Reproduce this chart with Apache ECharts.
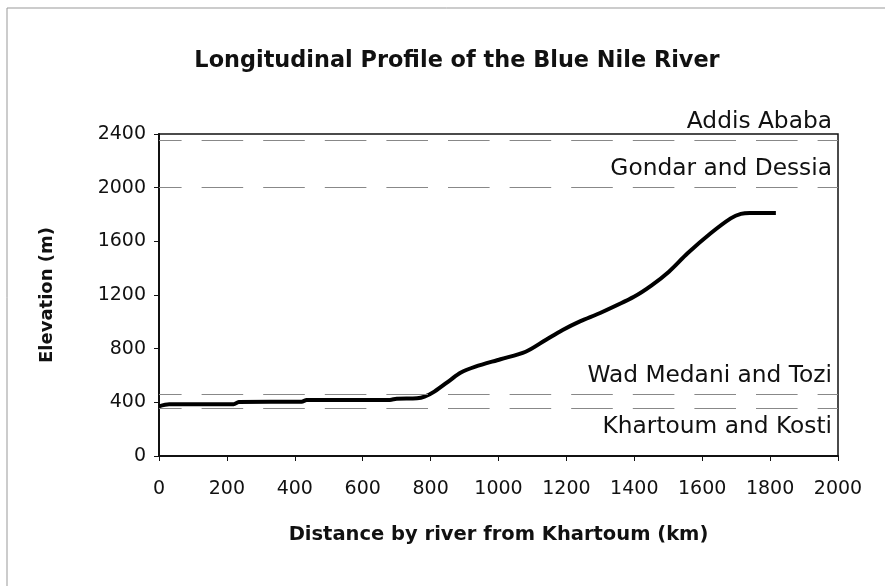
<!DOCTYPE html>
<html>
<head>
<meta charset="utf-8">
<script src="https://cdn.jsdelivr.net/npm/echarts@6/dist/echarts.min.js"></script>
<style>
  html, body { margin: 0; padding: 0; background: #fff; }
  #chart { width: 885px; height: 586px; }
</style>
</head>
<body>
<div id="chart"></div>
<script>
// distance from Khartoum (km) and elevation (m)
var distance = [0, 30, 220, 235, 420, 435, 680, 700, 760, 782, 811, 858, 888, 932, 1006, 1080, 1139, 1189, 1240, 1301, 1399, 1450, 1502, 1557, 1625, 1684, 1714, 1740, 1817];
var elevation = [370, 385, 385, 402, 405, 417, 418, 427, 430, 442, 480, 566, 621, 666, 721, 777, 865, 939, 1003, 1068, 1187, 1270, 1374, 1511, 1660, 1771, 1805, 1812, 1812];

// reference levels (dashed)
var levelNames = ["Addis Ababa", "Gondar and Dessia", "Wad Medani and Tozi", "Khartoum and Kosti"];
var levelValues = [2350, 2000, 460, 355];
var levelLabelPos = ["insideEndTop", "insideEndTop", "insideEndTop", "insideEndBottom"];

var xTicks = [0, 200, 400, 600, 800, 1000, 1200, 1400, 1600, 1800, 2000];
var yTicks = [0, 400, 800, 1200, 1600, 2000, 2400];

var font = "DejaVu Sans, Liberation Sans, Arial, sans-serif";
var chart = echarts.init(document.getElementById("chart"));

var lineData = distance.map(function (d, i) { return [d, elevation[i]]; });

var marks = levelValues.map(function (v, i) {
  return {
    yAxis: v,
    label: {
      show: true,
      formatter: levelNames[i],
      position: levelLabelPos[i],
      distance: [6, 7],
      fontSize: 23.3,
      color: "#111",
      fontFamily: font
    }
  };
});

var option = {
  animation: false,
  backgroundColor: "#fff",
  title: {
    text: "Longitudinal Profile of the Blue Nile River",
    left: 452,
    top: 45,
    textAlign: "center",
    textStyle: { fontSize: 22.4, fontWeight: "bold", color: "#111", fontFamily: font }
  },
  graphic: [{
    type: "rect",
    shape: { x: 7, y: 8, width: 900, height: 600 },
    style: { fill: "none", stroke: "#999", lineWidth: 1 },
    silent: true
  }],
  grid: {
    left: 159, right: 47, top: 134, bottom: 130,
    show: true, borderColor: "#111", borderWidth: 1.5, backgroundColor: "transparent"
  },
  xAxis: {
    type: "value",
    min: xTicks[0], max: xTicks[xTicks.length - 1], interval: 200,
    name: "Distance by river from Khartoum (km)",
    nameLocation: "middle", nameGap: 69,
    nameTextStyle: { fontSize: 19.5, fontWeight: "bold", color: "#111", fontFamily: font },
    axisLine: { lineStyle: { color: "#111", width: 2 } },
    axisTick: { show: true, length: 5, lineStyle: { color: "#111" } },
    axisLabel: { fontSize: 19, color: "#111", fontFamily: font, margin: 24, formatter: function (v) { return String(v); } },
    splitLine: { show: false }
  },
  yAxis: {
    type: "value",
    min: yTicks[0], max: yTicks[yTicks.length - 1], interval: 400,
    name: "Elevation (m)",
    nameLocation: "middle", nameGap: 103, nameRotate: 90,
    nameTextStyle: { fontSize: 18, fontWeight: "bold", color: "#111", fontFamily: font },
    axisLine: { show: true, lineStyle: { color: "#111", width: 2 } },
    axisTick: { show: true, length: 5, lineStyle: { color: "#111" } },
    axisLabel: { fontSize: 19, color: "#111", fontFamily: font, margin: 13, formatter: function (v) { return String(v); } },
    splitLine: { show: false }
  },
  series: [{
    type: "line",
    data: lineData,
    smooth: 0.3,
    showSymbol: false,
    lineStyle: { color: "#000", width: 4 },
    markLine: {
      silent: true,
      symbol: "none",
      lineStyle: { color: "#888", width: 1, type: [41.6, 20], dashOffset: 19 },
      data: marks
    }
  }]
};

chart.setOption(option);
</script>
</body>
</html>
